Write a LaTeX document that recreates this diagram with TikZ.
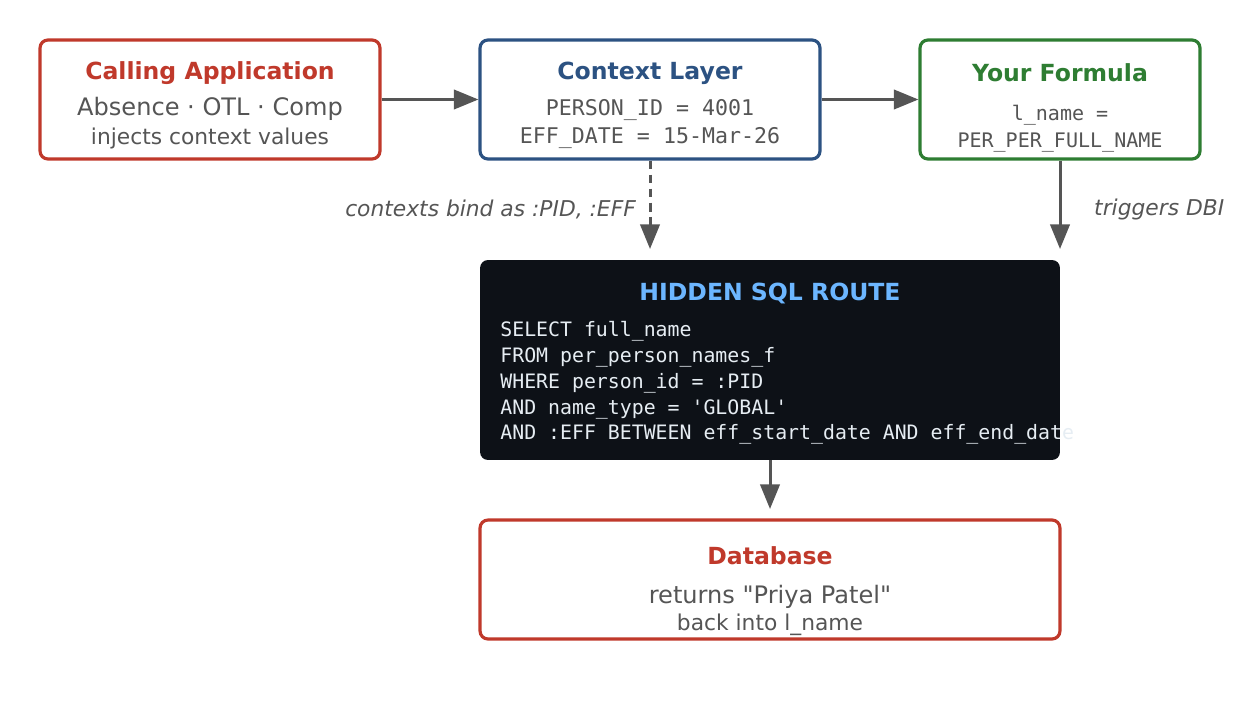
\documentclass[tikz,border=0pt]{standalone}
\usepackage{fontspec}
\setmainfont{DejaVu Sans}
\setmonofont{DejaVu Sans Mono}
\usetikzlibrary{positioning,calc,arrows.meta}
\definecolor{appred}{HTML}{C0392B}
\definecolor{ctxblue}{HTML}{2C5282}
\definecolor{fgreen}{HTML}{2E7D32}
\definecolor{sqlbg}{HTML}{0D1117}
\definecolor{sqlhead}{HTML}{6CB6FF}
\definecolor{sqltext}{HTML}{E6EDF3}
\definecolor{txtgray}{HTML}{555555}

\begin{document}
\begin{tikzpicture}[
    x=0.02cm, y=-0.02cm,
    box/.style={draw, line width=1.8pt, rounded corners=4.5pt, fill=white, minimum height=2.38cm},
    title/.style={font=\bfseries\fontsize{13.4}{16}\selectfont},
    sub/.style={text=txtgray, font=\fontsize{13.7}{16}\selectfont},
    small/.style={text=txtgray, font=\fontsize{12.4}{15}\selectfont},
    mono/.style={text=txtgray, font=\ttfamily\fontsize{12.3}{15}\selectfont, align=center},
    note/.style={text=txtgray, font=\itshape\fontsize{12.4}{15}\selectfont},
    arrow/.style={-{Triangle[length=14pt,width=11pt]}, line width=1.7pt, draw=txtgray}
]
\useasboundingbox (0,0) rectangle (1240,720);

% Top row
\node[box, draw=appred, minimum width=6.8cm] (app) at (210,99.5) {};
\node[box, draw=ctxblue, minimum width=6.8cm] (ctx) at (650,99.5) {};
\node[box, draw=fgreen, minimum width=5.6cm] (formula) at (1060,99.5) {};

\node[title, text=appred] (app_t) at (210,73) {Calling Application};
\node[sub] (app_s) at (210,109) {Absence · OTL · Comp};
\node[small] (app_n) at (210,138) {injects context values};

\node[title, text=ctxblue] (ctx_t) at (650,73) {Context Layer};
\node[mono] (ctx_s) at (650,110) {PERSON\_ID = 4001};
\node[mono] (ctx_n) at (650,138) {EFF\_DATE = 15-Mar-26};

\node[title, text=fgreen] (f_t) at (1060,73) {Your Formula};
\node[mono, font=\ttfamily\fontsize{11.4}{14}\selectfont] (f_s) at (1060,115) {l\_name =};
\node[mono, font=\ttfamily\fontsize{11.4}{14}\selectfont] (f_n) at (1060,143) {PER\_PER\_FULL\_NAME};

% Hidden SQL
\node[draw=none, fill=sqlbg, rounded corners=4.5pt, minimum width=11.6cm, minimum height=4cm] (sql) at (770,360) {};
\node[title, text=sqlhead] (sql_t) at (770,293) {HIDDEN SQL ROUTE};
\node[anchor=north west, inner sep=0pt, text=sqltext, align=left,
      font=\ttfamily\fontsize{11.3}{14.7}\selectfont] (sql_code) at (500,321)
  {SELECT full\_name\\FROM per\_person\_names\_f\\WHERE person\_id = :PID\\AND name\_type = 'GLOBAL'\\AND :EFF BETWEEN eff\_start\_date AND eff\_end\_date};

% Database
\node[box, draw=appred, minimum width=11.6cm] (db) at (770,579.5) {};
\node[title, text=appred] (db_t) at (770,556) {Database};
\node[sub] (db_s) at (770,597) {returns \textquotedbl Priya Patel\textquotedbl};
\node[small] (db_n) at (770,625) {back into l\_name};

% Arrows
\coordinate (ctx_end) at (650,249);
\coordinate (f_end) at (1060,249);
\coordinate (db_end) at (770,509);
\draw[arrow] (app.east) -- (ctx.west);
\draw[arrow] (ctx.east) -- (formula.west);
\draw[arrow, dashed, dash pattern=on 5pt off 3pt] (ctx.south) -- (ctx_end);
\draw[arrow] (formula.south) -- (f_end);
\draw[arrow] (sql.south) -- (db_end);

\node[note, anchor=east] (bind_l) at (642,209) {contexts bind as :PID, :EFF};
\node[note, anchor=west] (dbi_l) at (1088,209) {triggers DBI};
\end{tikzpicture}
\end{document}
